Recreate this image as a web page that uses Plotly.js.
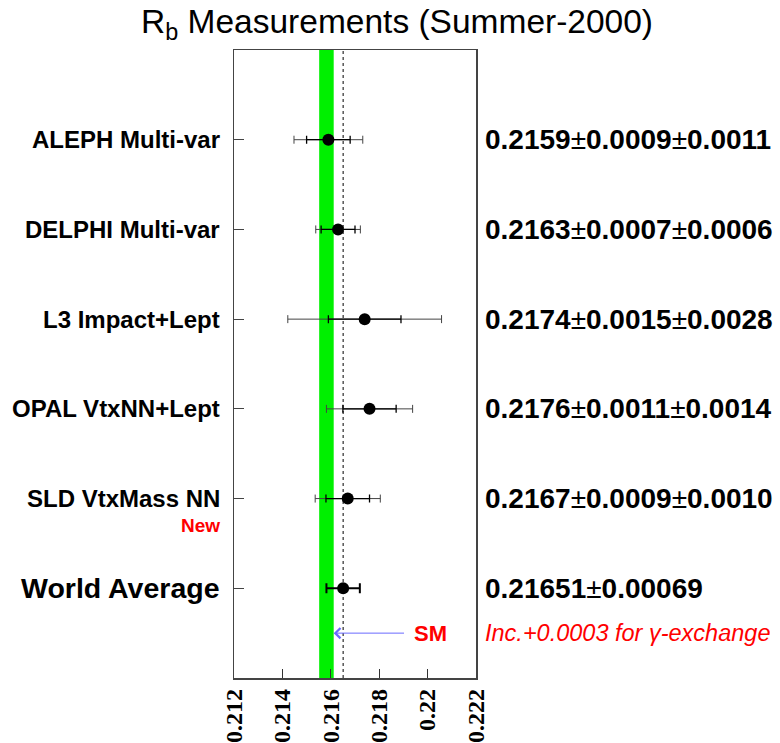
<!DOCTYPE html>
<html>
<head>
<meta charset="utf-8">
<script src="https://cdn.plot.ly/plotly-3.0.1.min.js"></script>
<style>body{margin:0;padding:0;background:#fff;} #chart{width:780px;height:743px;}</style>
</head>
<body>
<div id="chart"></div>
<script>
// ---- data ----
const experiments = ["ALEPH Multi-var", "DELPHI Multi-var", "L3 Impact+Lept", "OPAL VtxNN+Lept", "SLD VtxMass NN"];
const rbValues = [0.2159, 0.2163, 0.2174, 0.2176, 0.2167];
const statErrors = [0.0009, 0.0007, 0.0015, 0.0011, 0.0009];
const systErrors = [0.0011, 0.0006, 0.0028, 0.0014, 0.0010];
const valueLabels = ["0.2159", "0.2163", "0.2174", "0.2176", "0.2167"];
const statLabels = ["0.0009", "0.0007", "0.0015", "0.0011", "0.0009"];
const systLabels = ["0.0011", "0.0006", "0.0028", "0.0014", "0.0010"];
const rowPositions = [6, 5, 4, 3, 2];
const avgLabel = "World Average";
const avgValue = 0.21651;
const avgError = 0.00069;
const avgPosition = 1;
const smValue = 0.21582;
const smHalfWidth = 0.0003;
const smPosition = 0.5;
const smTextX = 0.2201;
const xTicks = [0.212, 0.214, 0.216, 0.218, 0.220, 0.222];
const xTickText = ["0.212", "0.214", "0.216", "0.218", "0.22", "0.222"];

// ---- traces ----
const totalErrors = statErrors.map((s, i) => Math.sqrt(s * s + systErrors[i] * systErrors[i]));
const traces = [
  {
    type: "scatter", mode: "markers", x: rbValues, y: rowPositions,
    marker: {size: 1, color: "rgba(0,0,0,0)"},
    error_x: {type: "data", array: totalErrors, visible: true, color: "#444", thickness: 1, width: 4},
    hoverinfo: "skip", showlegend: false
  },
  {
    type: "scatter", mode: "markers", x: rbValues, y: rowPositions,
    marker: {size: 12, color: "black"},
    error_x: {type: "data", array: statErrors, visible: true, color: "black", thickness: 1.3, width: 4},
    showlegend: false
  },
  {
    type: "scatter", mode: "markers", x: [avgValue], y: [avgPosition],
    marker: {size: 12, color: "black"},
    error_x: {type: "data", array: [avgError], visible: true, color: "black", thickness: 2, width: 5},
    showlegend: false
  }
];

// ---- annotations ----
const annotations = [];
const sans = "Liberation Sans, Arial, sans-serif";
const labelFont = {family: sans, size: 24, color: "black", weight: "bold"};
experiments.forEach((name, i) => {
  annotations.push({xref: "paper", yref: "y", x: 0, y: rowPositions[i], xanchor: "right", yanchor: "middle",
    xshift: -12, text: name, showarrow: false, font: labelFont});
  annotations.push({xref: "paper", yref: "y", x: 1, y: rowPositions[i], xanchor: "left", yanchor: "middle",
    xshift: 7, showarrow: false,
    text: valueLabels[i] + "<span style='font-weight:normal'>±</span>" + statLabels[i] + "<span style='font-weight:normal'>±</span>" + systLabels[i],
    font: {family: sans, size: 28, color: "black", weight: "bold"}});
});
annotations.push({xref: "paper", yref: "y", x: 0, y: rowPositions[4], xanchor: "right", yanchor: "middle",
  xshift: -12, yshift: -27, text: "New", showarrow: false,
  font: {family: sans, size: 19, color: "red", weight: "bold"}});
annotations.push({xref: "paper", yref: "y", x: 0, y: avgPosition, xanchor: "right", yanchor: "middle",
  xshift: -12, text: avgLabel, showarrow: false,
  font: {family: sans, size: 28.5, color: "black", weight: "bold"}});
annotations.push({xref: "paper", yref: "y", x: 1, y: avgPosition, xanchor: "left", yanchor: "middle",
  xshift: 7, showarrow: false,
  text: avgValue.toFixed(5) + "<span style='font-weight:normal'>±</span>" + avgError.toFixed(5),
  font: {family: sans, size: 28, color: "black", weight: "bold"}});
// SM label with arrow pointing to the SM band
annotations.push({xref: "x", yref: "y", x: smValue + smHalfWidth, y: smPosition, axref: "x", ayref: "y",
  ax: smTextX, ay: smPosition, text: "SM", showarrow: true, arrowhead: 4, arrowsize: 2,
  arrowwidth: 1, arrowcolor: "#6a6aff", borderpad: 9,
  font: {family: sans, size: 22, color: "red", weight: "bold"}});
annotations.push({xref: "paper", yref: "y", x: 1, y: smPosition, xanchor: "left", yanchor: "middle",
  xshift: 7, text: "Inc.+0.0003 for γ-exchange", showarrow: false,
  font: {family: sans, size: 23.5, color: "red", style: "italic"}});

const layout = {
  width: 780, height: 743,
  margin: {l: 234, r: 304, t: 50, b: 65},
  paper_bgcolor: "white", plot_bgcolor: "white",
  title: {text: "R<sub>b</sub> Measurements (Summer-2000)", x: 0.509, xanchor: "center",
    y: 0.972, yanchor: "middle", yref: "container",
    font: {family: sans, size: 33.5, color: "black"}},
  xaxis: {range: [0.212, 0.222], tickmode: "array", tickvals: xTicks, ticktext: xTickText,
    ticks: "inside", ticklen: 9, tickwidth: 1, tickcolor: "#333", tickangle: -90,
    tickfont: {family: "Liberation Serif, Times New Roman, serif", size: 24, color: "black", weight: "bold"},
    showgrid: false, zeroline: false, showline: true, linecolor: "#444", linewidth: 1.5, mirror: true},
  yaxis: {range: [0, 7], tickmode: "array", tickvals: [0, 1, 2, 3, 4, 5, 6, 7],
    ticks: "inside", ticklen: 10, tickwidth: 1, tickcolor: "#444", showticklabels: false,
    showgrid: false, zeroline: false, showline: true, linecolor: "#444", linewidth: 1.5, mirror: true},
  shapes: [
    {type: "rect", xref: "x", yref: "y", x0: smValue - smHalfWidth, x1: smValue + smHalfWidth, y0: 0, y1: 7,
      fillcolor: "#00f000", line: {width: 0}, layer: "below"},
    {type: "line", xref: "x", yref: "y", x0: avgValue, x1: avgValue, y0: 0, y1: 7,
      line: {color: "black", width: 1, dash: "3px,3px"}, layer: "below"}
  ],
  annotations: annotations,
  showlegend: false
};

Plotly.newPlot("chart", traces, layout, {displayModeBar: false, staticPlot: true});
</script>
</body>
</html>
